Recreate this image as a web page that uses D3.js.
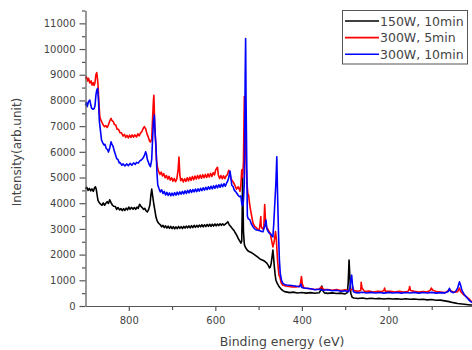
<!DOCTYPE html>
<html>
<head>
<meta charset="utf-8">
<script src="https://cdn.jsdelivr.net/npm/d3@7"></script>
<style>
  body { margin: 0; background: #fff; }
  svg { display: block; font-family: "DejaVu Sans", sans-serif; }
</style>
</head>
<body>
<div id="chart"></div>
<script>
// binding energy (eV) / intensity pairs
const black150W10 = [
  [900,4560],[897,4620],[894,4500],[891,4580],[888,4480],[885,4560],[882,4460],[879,4600],[877,4640],[875,4530],
  [873,4300],[871,4100],[868,4020],[865,3960],[862,3920],[859,4010],[856,3920],[853,4000],[850,4060],[847,3990],
  [844,4130],[841,4020],[838,3930],[835,3880],[831,3870],[828,3760],[825,3830],[821,3740],[818,3790],[815,3710],
  [812,3790],[809,3720],[806,3810],[803,3740],[800,3850],[797,3760],[794,3840],[790,3770],[787,3830],[784,3760],
  [781,3850],[778,3800],[775,3960],[772,3880],[769,3830],[766,3760],[763,3800],[760,3700],[757,3660],[754,3760],
  [751,3950],[749,4300],[747,4550],[745,4300],[742,3950],[739,3650],[737,3450],[734,3300],[731,3220],[727,3160],
  [724,3080],[721,3140],[718,3050],[715,3120],[712,3030],[709,3110],[706,3020],[703,3100],[700,3010],[697,3090],
  [694,3000],[691,3080],[688,3010],[685,3100],[682,3020],[679,3090],[676,3010],[673,3100],[670,3030],[667,3110],
  [664,3040],[661,3120],[658,3040],[655,3130],[652,3050],[649,3140],[646,3060],[643,3140],[640,3070],[637,3150],
  [634,3080],[631,3160],[628,3080],[625,3160],[622,3090],[619,3170],[616,3100],[613,3180],[610,3100],[607,3180],
  [604,3110],[601,3190],[598,3120],[595,3190],[592,3130],[589,3200],[586,3140],[583,3200],[580,3150],[577,3190],
  [574,3230],[571,3280],[568,3160],[564,3080],[560,3000],[557,2940],[554,2850],[550,2740],[547,2620],
  [544,2540],[541,2450],[539,2520],[538,3600],[537,5000],[536,4000],[535,2900],[533,2400],[531,2300],[528,2220],
  [525,2150],[521,2110],[517,2080],[513,2040],[509,1990],[505,1940],[501,1890],[497,1830],[493,1800],[489,1770],
  [486,1740],[483,1700],[480,1640],[477,1560],[475,1480],[473,1520],[471,1650],[469,1900],[467,2180],[466,2000],
  [464,1600],[462,1250],[460,1000],[457,880],[454,790],[451,720],[448,660],[444,600],[440,560],[434,540],
  [428,520],[420,540],[410,505],[400,525],[390,500],[380,520],[370,495],[360,515],[356,620],[354,780],
  [352,600],[348,510],[340,490],[330,510],[320,485],[310,500],[300,470],[295,520],[293,900],[291,1790],
  [289,1100],[287,500],[284,340],[280,310],[270,290],[260,310],[250,285],[240,300],[230,280],[220,295],
  [210,275],[200,290],[190,270],[180,285],[170,265],[160,280],[150,260],[140,270],[130,250],[120,260],
  [110,240],[100,250],[90,225],[80,230],[70,200],[60,170],[50,130],[40,100],[30,80],[20,60],[10,40],[0,30]
];

const red300W5 = [
  [900,8850],[898,8920],[895,8760],[893,8860],[890,8680],[887,8760],[885,8600],[882,8690],[880,8580],[878,8700],
  [876,9000],[874,9080],[873,8950],[871,8600],[869,7900],[867,7380],[865,7250],[862,7150],[859,7040],[856,6980],
  [853,7020],[850,6950],[847,7050],[844,7200],[841,7300],[839,7220],[836,7180],[833,7060],[830,7040],[827,6880],
  [824,6880],[820,6740],[817,6740],[813,6610],[810,6680],[807,6560],[804,6640],[801,6540],[798,6650],[795,6560],
  [792,6660],[789,6570],[786,6660],[782,6580],[779,6700],[776,6620],[773,6730],[770,6780],[767,6900],[764,6980],
  [761,6900],[758,6700],[755,6580],[752,6420],[750,6380],[747,6500],[745,7300],[743,8000],[742,8200],[740,7000],
  [738,6400],[736,5700],[734,5420],[731,5230],[728,5120],[725,5210],[722,5060],[719,5150],[716,4990],[713,5080],
  [710,4940],[707,5050],[704,4900],[701,4990],[698,4860],[695,4960],[692,4840],[689,4950],[686,5300],[684,5800],
  [682,5100],[680,4880],[677,4960],[674,4830],[671,4950],[668,4850],[665,4990],[662,4870],[659,5010],[656,4890],
  [653,5040],[650,4910],[647,5060],[644,4940],[641,5080],[638,4960],[635,5100],[632,4970],[629,5110],[626,4990],
  [623,5120],[620,5000],[617,5140],[614,5020],[611,5160],[608,5040],[605,5190],[602,5100],[599,5300],[597,5360],
  [595,5400],[593,5100],[590,4960],[587,5080],[584,4950],[581,5070],[578,4960],[575,5060],[572,5120],[569,5280],
  [567,5200],[564,4950],[561,4880],[558,4800],[555,4700],[551,4550],[547,4640],[543,4470],[541,4700],[539,5300],
  [537,5000],[535,5600],[533,8150],[531,6500],[529,5600],[527,4800],[525,4400],[523,4300],[521,4000],[519,3780],
  [516,3500],[513,3220],[509,3100],[505,3040],[501,2960],[498,3000],[496,3300],[495,3480],[494,3100],[491,3000],
  [488,3050],[486,3950],[484,3300],[482,3080],[479,3000],[476,2900],[473,2820],[470,2550],[467,2300],[464,2500],
  [461,2900],[459,2600],[456,1700],[453,1200],[451,1140],[448,900],[444,810],[437,780],[430,760],[422,745],
  [414,740],[408,760],[404,800],[401,1150],[399,850],[395,700],[390,690],[380,670],[370,640],[360,660],
  [355,750],[350,650],[340,640],[330,610],[320,640],[310,600],[300,630],[294,600],[290,620],[284,640],
  [282,720],[280,600],[270,570],[264,600],[263,920],[261,700],[255,560],[245,580],[235,545],[225,575],
  [215,560],[210,620],[209,700],[207,570],[195,575],[185,545],[175,570],[165,545],[155,565],[152,660],
  [151,760],[149,600],[140,570],[130,545],[120,565],[110,545],[103,620],[101,700],[98,620],[90,560],
  [80,540],[70,520],[65,550],[60,640],[57,600],[50,540],[40,560],[36,700],[33,560],[25,420],
  [20,360],[15,300],[10,200],[5,150],[0,120]
];

const blue300W10 = [
  [900,7800],[898,7920],[896,7760],[893,7960],[890,8010],[888,7840],[886,7700],[883,7660],[880,7680],[878,7800],
  [876,8200],[874,8400],[872,8470],[870,8000],[868,7200],[866,6900],[863,6460],[860,6350],[857,6260],[855,6290],
  [852,6130],[849,6080],[847,5990],[844,6150],[841,6390],[839,6300],[836,6200],[833,6000],[830,5850],[828,5740],
  [825,5700],[822,5570],[820,5580],[816,5480],[813,5530],[809,5450],[805,5530],[801,5460],[797,5550],[793,5480],
  [789,5570],[785,5510],[782,5590],[778,5560],[775,5640],[771,5680],[767,5760],[764,5850],[761,6000],[759,5900],
  [757,5700],[755,5610],[752,5480],[750,5420],[747,5700],[745,6500],[743,7200],[741,7430],[739,6700],[737,6200],
  [735,5200],[733,4710],[730,4560],[727,4440],[724,4520],[721,4380],[718,4460],[715,4320],[712,4420],[709,4300],
  [706,4400],[703,4290],[700,4390],[697,4300],[694,4410],[691,4310],[688,4430],[685,4330],[682,4440],[679,4350],
  [676,4460],[673,4360],[670,4480],[667,4380],[664,4500],[661,4400],[658,4520],[655,4420],[652,4530],[649,4440],
  [646,4550],[643,4450],[640,4560],[637,4470],[634,4580],[631,4490],[628,4600],[625,4510],[622,4620],[619,4530],
  [616,4640],[613,4550],[610,4660],[607,4560],[604,4680],[601,4580],[598,4700],[595,4600],[592,4720],[589,4620],
  [586,4740],[583,4640],[580,4760],[577,4660],[574,4780],[571,4880],[569,5000],[566,5250],[564,5000],[562,4700],
  [559,4650],[556,4500],[553,4450],[550,4380],[547,4300],[544,4250],[541,4280],[539,4000],[537,3900],[535,4100],
  [533,4800],[531,9000],[530,10410],[529,8000],[527,5000],[526,3500],[524,3400],[520,3350],[517,3200],[513,3085],
  [509,3000],[505,2960],[501,2950],[497,2930],[493,2900],[490,2890],[488,3000],[486,3100],[483,3345],[481,3000],
  [478,2900],[475,2830],[472,2800],[469,2720],[467,2690],[465,3200],[463,3860],[460,4800],[458,5808],[456,4200],
  [454,2800],[452,1800],[450,1270],[447,1000],[444,880],[440,840],[435,820],[428,810],[420,790],[412,770],
  [405,750],[402,850],[400,720],[395,700],[390,690],[380,670],[370,635],[360,650],[350,615],[340,630],
  [330,595],[320,610],[310,575],[300,590],[292,560],[289,700],[287,1000],[285,1200],[283,800],[281,560],
  [278,530],[270,510],[260,535],[250,505],[240,530],[230,505],[220,525],[210,500],[200,530],[190,505],
  [180,525],[170,500],[160,525],[150,505],[140,530],[130,500],[120,525],[110,505],[100,530],[90,500],
  [80,520],[70,510],[62,560],[59,690],[56,560],[50,520],[45,560],[40,700],[36,940],[33,800],
  [30,600],[25,450],[20,350],[15,250],[10,170],[5,120],[0,100]
];

const seriesNames = ["150W, 10min", "300W, 5min", "300W, 10min"];
const seriesColors = ["#000000", "#ff0000", "#0000ff"];
const seriesData = [black150W10, red300W5, blue300W10];

const xMajorTicks = [800, 600, 400, 200];
const xMinorTicks = [700, 500, 300, 100];
const yMajorTicks = [0, 1000, 2000, 3000, 4000, 5000, 6000, 7000, 8000, 9000, 10000, 11000];
const yMinorTicks = [500, 1500, 2500, 3500, 4500, 5500, 6500, 7500, 8500, 9500, 10500, 11500];

const width = 472;
const height = 350;
const axisGrey = "#555";
const textGrey = "#444";

const svg = d3.select("#chart").append("svg")
    .attr("width", width)
    .attr("height", height);

const x = d3.scaleLinear().domain([900, 0]).range([85.5, 475]);
const y = d3.scaleLinear().domain([0, 11500]).range([306, 10.5]);

// spectra
const line = d3.line()
    .x(d => x(d[0]))
    .y(d => y(d[1]));

svg.append("g")
  .selectAll("path")
  .data(seriesData)
  .join("path")
    .attr("d", line)
    .attr("fill", "none")
    .attr("stroke", (d, i) => seriesColors[i])
    .attr("stroke-width", 1.6)
    .attr("stroke-linejoin", "round");

// y axis
svg.append("g")
    .attr("transform", "translate(85.5,0)")
    .call(d3.axisLeft(y).tickValues(yMajorTicks).tickFormat(d3.format("d"))
      .tickSize(6).tickSizeOuter(0).tickPadding(4));
svg.append("g")
    .attr("transform", "translate(85.5,0)")
    .call(d3.axisLeft(y).tickValues(yMinorTicks).tickSize(3.5).tickSizeOuter(0).tickFormat(""))
    .select(".domain").remove();

// x axis
svg.append("g")
    .attr("transform", "translate(0,306)")
    .call(d3.axisBottom(x).tickValues(xMajorTicks).tickFormat(d3.format("d"))
      .tickSize(5).tickSizeOuter(0).tickPadding(6));
svg.append("g")
    .attr("transform", "translate(0,306)")
    .call(d3.axisBottom(x).tickValues(xMinorTicks).tickSize(4).tickSizeOuter(0).tickFormat(""))
    .select(".domain").remove();

svg.selectAll(".domain, .tick line")
    .attr("stroke", axisGrey)
    .attr("stroke-width", 1.2);
svg.selectAll(".tick text")
    .attr("fill", textGrey)
    .style("font-family", "DejaVu Sans")
    .style("font-size", "10px");

// axis titles
svg.append("text")
    .attr("transform", "translate(21,152) rotate(-90)")
    .attr("text-anchor", "middle")
    .attr("fill", textGrey)
    .style("font-size", "12px")
    .text("Intensity(arb.unit)");

svg.append("text")
    .attr("x", 282)
    .attr("y", 346)
    .attr("text-anchor", "middle")
    .attr("fill", textGrey)
    .style("font-size", "12.5px")
    .text("Binding energy (eV)");

// legend
const legend = svg.append("g");
legend.append("rect")
    .attr("x", 342.5).attr("y", 10.5)
    .attr("width", 125).attr("height", 53.5)
    .attr("fill", "#fff")
    .attr("stroke", axisGrey)
    .attr("stroke-width", 1);

const rows = legend.selectAll("g.row")
  .data(seriesNames)
  .join("g")
    .attr("class", "row")
    .attr("transform", (d, i) => "translate(0," + (21 + i * 16.6) + ")");
rows.append("line")
    .attr("x1", 345).attr("x2", 379)
    .attr("stroke", (d, i) => seriesColors[i])
    .attr("stroke-width", 1.6);
rows.append("text")
    .attr("x", 380)
    .attr("dy", "0.36em")
    .attr("fill", textGrey)
    .style("font-size", "12.5px")
    .text(d => d);
</script>
</body>
</html>
